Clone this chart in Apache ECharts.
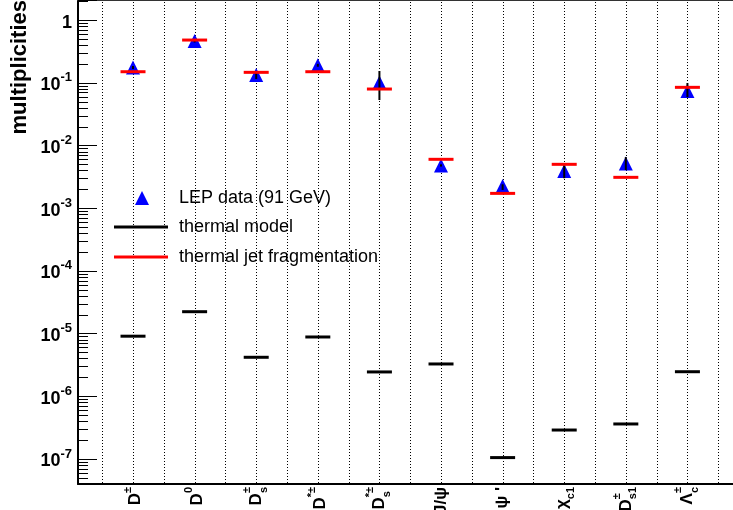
<!DOCTYPE html>
<html>
<head>
<meta charset="utf-8">
<script src="https://cdn.jsdelivr.net/npm/echarts@6.0.0/dist/echarts.min.js"></script>
<style>
  html, body { margin: 0; padding: 0; background: #fff; }
  #chart { width: 733px; height: 510px; }
</style>
</head>
<body>
<div id="chart"></div>
<script>
// categories: main symbol + superscript + subscript, drawn as rotated labels
const labelMain = ['D', 'D', 'D', 'D', 'D', 'J/\u03c8', '\u03c8 \'', '\u03c7', 'D', '\u039b'];
const labelSup = ['\u00b1', '0', '\u00b1', '*\u00b1', '*\u00b1', '', '', '', '\u00b1', '\u00b1'];
const labelSub = ['', '', 's', '', 's', '', '', 'c1', 's1', 'c'];

// LEP data (91 GeV) with error bars
const lepData = [0.175, 0.462, 0.133, 0.191, 0.101, 0.00479, 0.00225, 0.00391, 0.00515, 0.0738];
const lepLow = [0.165, 0.44, 0.1146, 0.18, 0.053, 0.0046, 0.00195, 0.0030, 0.00405, 0.059];
const lepHigh = [0.185, 0.48, 0.15, 0.20, 0.154, 0.0050, 0.0024, 0.00525, 0.00653, 0.099];

// model predictions
const thermalModel = [9.07e-6, 2.23e-5, 4.18e-6, 8.81e-6, 2.44e-6, 3.27e-6, 1.05e-7, 2.89e-7, 3.61e-7, 2.46e-6];
const thermalJet = [0.150, 0.480, 0.1466, 0.150, 0.0794, 0.00601, 0.00172, 0.00500, 0.00310, 0.0845];

// axis ranges (y in decades)
const yMinExp = -7.4;
const yMaxExp = 0.32;
const xMin = -0.893;
const xMax = 9.821;

const fontFamily = '"Liberation Sans", Arial, Helvetica, sans-serif';

// dotted verticals at category centres and boundaries
const dottedPositions = [];
labelMain.forEach(function (_, i) { dottedPositions.push(i - 0.5, i); });
dottedPositions.push(labelMain.length - 0.5);

// log minor ticks 2..9 x 10^k
const minorTicks = [];
for (let k = -8; k <= 0; k++) {
  for (let m = 2; m <= 9; m++) {
    const v = m * Math.pow(10, k);
    if (v > Math.pow(10, yMinExp) && v < Math.pow(10, yMaxExp)) minorTicks.push(v);
  }
}

const measureCtx = document.createElement('canvas').getContext('2d');
function textWidth(s, font) {
  measureCtx.font = font;
  return measureCtx.measureText(s).width;
}

const mainFont = 'bold 17px ' + fontFamily;
const smallFont = 'bold 11px ' + fontFamily;

const chart = echarts.init(document.getElementById('chart'), null, { renderer: 'canvas' });

const option = {
  animation: false,
  backgroundColor: '#fff',
  grid: { left: 78, top: 0, width: 660, height: 484, outerBoundsMode: 'none' },
  xAxis: [{
    type: 'value', min: xMin, max: xMax,
    axisLine: { show: true, onZero: false, lineStyle: { color: '#000', width: 2 } },
    axisTick: { show: false }, axisLabel: { show: false }, splitLine: { show: false }
  }, {
    type: 'value', position: 'top', min: xMin, max: xMax,
    axisLine: { show: true, onZero: false, lineStyle: { color: '#333', width: 2 } },
    axisTick: { show: false }, axisLabel: { show: false }, splitLine: { show: false }
  }],
  yAxis: {
    type: 'log', logBase: 10,
    min: Math.pow(10, yMinExp), max: Math.pow(10, yMaxExp),
    splitNumber: 8,
    axisLine: { show: true, onZero: false, lineStyle: { color: '#000', width: 2 } },
    axisTick: { show: true, inside: true, length: 19, lineStyle: { color: '#000', width: 1 } },
    splitLine: { show: false },
    axisLabel: {
      margin: 6,
      formatter: function (v) {
        const l = Math.log10(v);
        const e = Math.round(l);
        if (Math.abs(l - e) > 0.01) return '';
        if (e === 0) return '{one|1}';
        return '{b|10}{s|' + e + '}';
      },
      rich: {
        one: { fontFamily: fontFamily, fontWeight: 'bold', fontSize: 18, lineHeight: 23, verticalAlign: 'bottom', color: '#000' },
        b: { fontFamily: fontFamily, fontWeight: 'bold', fontSize: 18, lineHeight: 18, verticalAlign: 'bottom', color: '#000' },
        s: { fontFamily: fontFamily, fontWeight: 'bold', fontSize: 13, lineHeight: 23, verticalAlign: 'top', color: '#000' }
      }
    }
  },
  legend: [{
    data: [{ name: 'LEP data (91 GeV)', icon: 'triangle' }],
    left: 135, top: 188, padding: 0, itemWidth: 14, itemHeight: 14, selectedMode: false,
    textStyle: { fontFamily: fontFamily, fontSize: 18, color: '#000', lineHeight: 20, padding: [0, 0, 0, 25] }
  }, {
    data: [{ name: 'thermal model', icon: 'rect' }],
    left: 114, top: 217, padding: 0, itemWidth: 54, itemHeight: 3, selectedMode: false,
    textStyle: { fontFamily: fontFamily, fontSize: 18, color: '#000', lineHeight: 20, padding: [0, 0, 0, 6] }
  }, {
    data: [{ name: 'thermal jet fragmentation', icon: 'rect' }],
    left: 114, top: 247, padding: 0, itemWidth: 54, itemHeight: 3, selectedMode: false,
    textStyle: { fontFamily: fontFamily, fontSize: 18, color: '#000', lineHeight: 20, padding: [0, 0, 0, 6] }
  }],
  graphic: [{
    type: 'text', x: 20, y: 0, rotation: Math.PI / 2,
    style: { text: 'multiplicities', font: 'bold 22px ' + fontFamily, fill: '#000', align: 'right', verticalAlign: 'middle' }
  }],
  series: [{
    // dotted vertical grid
    type: 'custom', name: 'grid', silent: true, z: 1,
    data: dottedPositions.map(function (p) { return [p]; }),
    encode: { x: 0 },
    renderItem: function (params, api) {
      const cs = params.coordSys;
      const x = Math.round(api.coord([api.value(0), 1])[0]) + 0.5;
      return {
        type: 'line',
        shape: { x1: x, y1: cs.y + 2, x2: x, y2: cs.y + cs.height - 1 },
        style: { stroke: '#000', lineWidth: 1, lineDash: [1, 2] }
      };
    }
  }, {
    // minor log ticks
    type: 'custom', name: 'minor', silent: true, z: 5,
    data: minorTicks.map(function (v) { return [xMin, v]; }),
    encode: { x: 0, y: 1 },
    renderItem: function (params, api) {
      const p = api.coord([api.value(0), api.value(1)]);
      const y = Math.round(p[1]) + 0.5;
      return {
        type: 'line',
        shape: { x1: p[0], y1: y, x2: p[0] + 10, y2: y },
        style: { stroke: '#000', lineWidth: 1 }
      };
    }
  }, {
    name: 'LEP data (91 GeV)', type: 'scatter', z: 2,
    symbol: 'triangle', symbolSize: [14, 14],
    itemStyle: { color: '#0000ff', opacity: 1 },
    data: lepData.map(function (v, i) { return [i, v]; })
  }, {
    // error bars
    type: 'custom', name: 'errors', silent: true, z: 3,
    data: lepLow.map(function (lo, i) { return [i, lo, lepHigh[i]]; }),
    encode: { x: 0, y: [1, 2] },
    renderItem: function (params, api) {
      const lo = api.coord([api.value(0), api.value(1)]);
      const hi = api.coord([api.value(0), api.value(2)]);
      return {
        type: 'line',
        shape: { x1: lo[0], y1: lo[1], x2: hi[0], y2: hi[1] },
        style: { stroke: '#000', lineWidth: 2 }
      };
    }
  }, {
    name: 'thermal model', type: 'scatter', z: 4,
    symbol: 'rect', symbolSize: [25, 3],
    itemStyle: { color: '#000', opacity: 1 },
    data: thermalModel.map(function (v, i) { return [i, v]; })
  }, {
    name: 'thermal jet fragmentation', type: 'scatter', z: 4,
    symbol: 'rect', symbolSize: [25, 3],
    itemStyle: { color: '#ff0000', opacity: 1 },
    data: thermalJet.map(function (v, i) { return [i, v]; })
  }, {
    // rotated category labels with super/subscripts
    type: 'custom', name: 'labels', silent: true, z: 6,
    data: labelMain.map(function (_, i) { return [i]; }),
    encode: { x: 0 },
    renderItem: function (params, api) {
      const i = params.dataIndex;
      const cs = params.coordSys;
      const x = api.coord([api.value(0), 1])[0];
      const sup = labelSup[i];
      const sub = labelSub[i];
      const tail = Math.max(sup ? textWidth(sup, smallFont) : 0, sub ? textWidth(sub, smallFont) : 0);
      let mainOff = 0, supOff = -5, subOff = 4.5;
      if (sup && !sub) { mainOff = 2.5; supOff = -1.5; }
      if (sub && !sup) { mainOff = -2; subOff = 3.5; }
      const children = [{
        type: 'text', x: -tail, y: mainOff,
        style: { text: labelMain[i], font: mainFont, fill: '#000', align: 'right', verticalAlign: 'middle' }
      }];
      if (sup) children.push({
        type: 'text', x: -tail, y: supOff - 4,
        style: { text: sup, font: smallFont, fill: '#000', align: 'left', verticalAlign: 'middle' }
      });
      if (sub) children.push({
        type: 'text', x: -tail, y: subOff + 3,
        style: { text: sub, font: smallFont, fill: '#000', align: 'left', verticalAlign: 'middle' }
      });
      return {
        type: 'group', x: x, y: cs.y + cs.height + 3, rotation: Math.PI / 2,
        children: children
      };
    }
  }]
};

chart.setOption(option);
</script>
</body>
</html>
